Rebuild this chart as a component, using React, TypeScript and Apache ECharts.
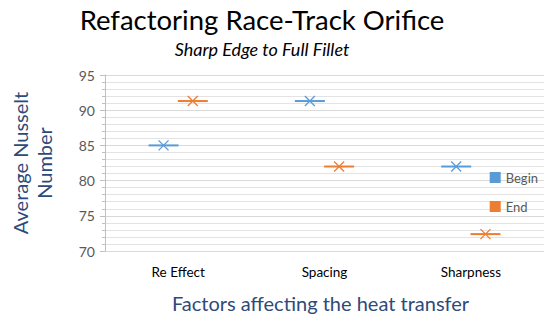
import React, { useEffect, useRef } from "react";
import * as echarts from "echarts";

const categories = ["Re Effect", "Spacing", "Sharpness"];
const beginValues = [85, 91.3, 82];
const endValues = [91.3, 82, 72.4];
const yTicks = { min: 70, max: 95, interval: 5 };

const FONT = "Lato, 'Open Sans', sans-serif";

function makeRender(offsetFrac: number, color: string) {
  return (params: any, api: any) => {
    const idx = api.value(0);
    const v = api.value(1);
    const p = api.coord([idx, v]);
    const bw = api.size([1, 0])[0];
    const cx = p[0] + offsetFrac * bw;
    const cy = p[1];
    const hw = 15;
    const s = 5;
    return {
      type: "group",
      children: [
        { type: "line", shape: { x1: cx - hw, y1: cy, x2: cx + hw, y2: cy }, style: { stroke: color, lineWidth: 2 } },
        { type: "line", shape: { x1: cx - s, y1: cy - s, x2: cx + s, y2: cy + s }, style: { stroke: color, lineWidth: 1.3 } },
        { type: "line", shape: { x1: cx - s, y1: cy + s, x2: cx + s, y2: cy - s }, style: { stroke: color, lineWidth: 1.3 } },
      ],
    };
  };
}

export default function App() {
  const ref = useRef<HTMLDivElement>(null);
  useEffect(() => {
    if (!ref.current) return;
    const chart = echarts.init(ref.current, null, { renderer: "svg" });
    const blue = "#5B9BD5";
    const orange = "#ED7D31";
    chart.setOption({
      animation: false,
      title: [
        {
          text: "Refactoring Race-Track Orifice",
          left: 257,
          textAlign: "center",
          top: 0,
          textStyle: { fontFamily: FONT, fontSize: 27.5, fontWeight: "normal", color: "#000" },
        },
        {
          text: "Sharp Edge to Full Fillet",
          left: 257,
          textAlign: "center",
          top: 35,
          textStyle: { fontFamily: FONT, fontSize: 18, fontStyle: "italic", fontWeight: "normal", color: "#000" },
        },
      ],
      legend: {
        orient: "vertical",
        right: 7,
        top: 166,
        itemWidth: 11,
        itemHeight: 11,
        itemGap: 16,
        icon: "rect",
        textStyle: { fontFamily: FONT, fontSize: 13, color: "#595959" },
        data: ["Begin", "End"],
      },
      grid: { left: 86, right: 6, top: 75, bottom: 70 },
      xAxis: {
        type: "category",
        data: categories,
        name: "Factors affecting the heat transfer",
        nameLocation: "middle",
        nameGap: 42,
        nameTextStyle: { fontFamily: FONT, fontSize: 20, color: "#2E4A7A", padding: [0, 8, 0, 0] },
        axisLine: { show: false },
        axisTick: { show: false },
        axisLabel: { fontFamily: FONT, fontSize: 13.5, color: "#000", margin: 14 },
      },
      yAxis: {
        type: "value",
        min: yTicks.min,
        max: yTicks.max,
        interval: yTicks.interval,
        name: "Average Nusselt\nNumber",
        nameLocation: "middle",
        nameGap: 49,
        nameTextStyle: { fontFamily: FONT, fontSize: 20, color: "#2E4A7A", lineHeight: 24 },
        axisLine: { show: true, lineStyle: { color: "#BFBFBF" } },
        axisTick: { show: true, length: 5, lineStyle: { color: "#BFBFBF" } },
        minorTick: { show: true, splitNumber: 5, length: 3, lineStyle: { color: "#BFBFBF" } },
        axisLabel: { fontFamily: FONT, fontSize: 14, color: "#595959", margin: 10 },
        splitLine: { show: true, lineStyle: { color: "#D9D9D9" } },
        minorSplitLine: { show: true, lineStyle: { color: "#E3E3E3" } },
      },
      series: [
        {
          name: "Begin",
          type: "custom",
          color: blue,
          itemStyle: { color: blue },
          renderItem: makeRender(-0.1, blue),
          data: beginValues.map((v, i) => [i, v]),
        },
        {
          name: "End",
          type: "custom",
          color: orange,
          itemStyle: { color: orange },
          renderItem: makeRender(0.1, orange),
          data: endValues.map((v, i) => [i, v]),
        },
      ],
    });
    return () => chart.dispose();
  }, []);
  return <div ref={ref} style={{ position: "absolute", left: 0, top: 0, width: 550, height: 321 }} />;
}
